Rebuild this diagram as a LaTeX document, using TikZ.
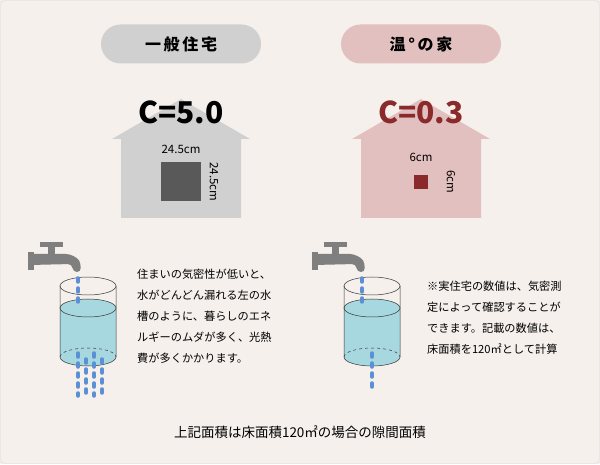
\documentclass[tikz,border=0pt]{standalone}
\usepackage{fontspec}
\setmainfont{Noto Sans CJK JP}
\usetikzlibrary{positioning}
\definecolor{bg}{HTML}{F5F0EC}
\definecolor{grayhouse}{HTML}{D0D0D0}
\definecolor{pinkhouse}{HTML}{E3C0C0}
\definecolor{darkred}{HTML}{8B2A2A}
\definecolor{darksq}{HTML}{595959}
\definecolor{tapgray}{HTML}{7F7F7F}
\definecolor{water}{HTML}{A8D8DF}
\definecolor{drop}{HTML}{5B8FD6}
\tikzset{
  pill/.style={rounded corners=19.5pt, minimum width=160pt, minimum height=39pt, inner sep=0pt, font=\bfseries\fontsize{16}{16}\selectfont},
  body/.style={font=\fontsize{11.2}{21}\selectfont, align=left, anchor=north west, inner sep=0pt},
  dim/.style={font=\fontsize{11.5}{11.5}\selectfont, inner sep=0pt},
  big/.style={font=\bfseries\fontsize{30}{30}\selectfont, inner sep=0pt},
  stream/.style={drop, line width=3.5pt, line cap=round, dash pattern=on 4pt off 6pt},
}
\begin{document}
\begin{tikzpicture}[x=1pt,y=1pt]
  \useasboundingbox (0,0) rectangle (600,464);
  \fill[bg] (0,0) rectangle (600,464);
  \draw[gray!30, rounded corners=4pt] (0.5,0.5) rectangle (599.5,463.5);
  % titles
  \node (tl) [pill, fill=grayhouse] at (181,420) {一\,般\,住\,宅};
  \node (tr) [pill, fill=pinkhouse] at (421,420) {温\,°\,の\,家};
  % houses
  \foreach \cx/\col in {181/grayhouse, 421/pinkhouse}{
    \fill[\col] (\cx-69,325) -- (\cx,365) -- (\cx+69,325) -- (\cx+60,325)
      -- (\cx+60,246) -- (\cx-60,246) -- (\cx-60,325) -- cycle;
  }
  \node (cl) [big] at (181,352) {C=5.0};
  \node (cr) [big, text=darkred] at (421,352) {C=0.3};
  \fill[darksq] (161,263) rectangle (201,302);
  \node (wl) [dim] at (181,315) {24.5cm};
  \node (hl) [dim, rotate=-90] at (214,282) {24.5cm};
  \fill[darkred] (414,275) rectangle (428,289);
  \node (wr) [dim] at (421,307) {6cm};
  \node (hr) [dim, rotate=-90] at (451,282) {6cm};
  % taps, tanks, leaks
  \foreach \cx in {88,372}{
    \begin{scope}[shift={(\cx-88,0)}]
      \fill[tapgray] (40,222) rectangle (63,217);
      \fill[tapgray] (48,220) rectangle (55,207);
      \fill[tapgray] (28,194) rectangle (34,212);
      \fill[tapgray, rounded corners=4pt] (30,210) -- (70,210) -- (80,204) -- (81,192)
        -- (73,192) -- (72,200) -- (30,199) -- cycle;
      \fill[water] (60,156) -- (60,107) arc[start angle=180, end angle=360, x radius=28, y radius=9]
        -- (116,156) arc[start angle=0, end angle=180, x radius=28, y radius=9];
      \draw[black!80, line width=0.5pt] (88,178) ellipse[x radius=28, y radius=9];
      \draw[black!80, line width=0.5pt] (88,156) ellipse[x radius=28, y radius=9];
      \draw[black!80, line width=0.5pt] (60,178) -- (60,107) arc[start angle=180, end angle=360, x radius=28, y radius=9] -- (116,178);
      \draw[black!80, line width=0.5pt, dashed] (60,107) arc[start angle=180, end angle=0, x radius=28, y radius=9];
      \draw[stream] (78,186) -- (78,160);
    \end{scope}
  }
  \foreach \x/\t in {78/111, 86/105, 94/111, 102/105}
    \draw[stream] (\x,\t) -- (\x,68);
  \draw[stream] (372,111) -- (372,72);
  % texts
  \node (txl) [body] at (137,195) {住まいの気密性が低いと、\\水がどんどん漏れる左の水\\槽のように、暮らしのエネ\\ルギーのムダが多く、光熱\\費が多くかかります。};
  \node (txr) [body] at (427,183) {※実住宅の数値は、気密測\\定によって確認することが\\できます。記載の数値は、\\床面積を120㎡として計算};
  \node (foot) [dim, font=\fontsize{13.5}{13.5}\selectfont] at (300,32) {上記面積は床面積120㎡の場合の隙間面積};
\end{tikzpicture}
\end{document}
